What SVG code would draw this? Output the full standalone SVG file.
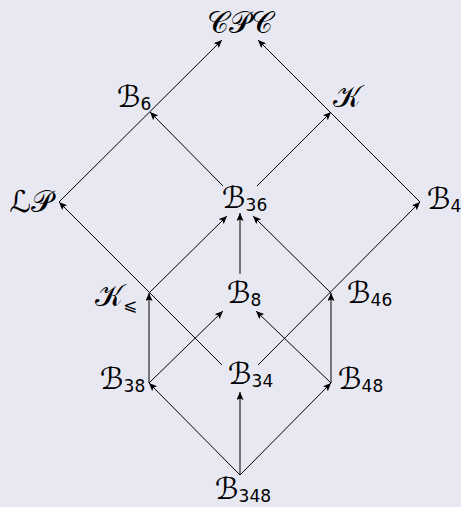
<svg xmlns="http://www.w3.org/2000/svg" width="461" height="507" viewBox="0 0 461 507">
<style>
.bg{fill:#e8e8f2}
.e{stroke:#000;stroke-width:1;fill:none;marker-end:url(#ah)}
.n{font-family:"DejaVu Sans","DejaVu Serif","Noto Sans",serif;font-size:30px;fill:#000}
.s{font-family:"DejaVu Sans","Noto Sans",sans-serif;font-size:17px}
</style>
<defs>
<marker id="ah" markerUnits="userSpaceOnUse" markerWidth="10" markerHeight="8" refX="8" refY="3.5" orient="auto">
<path d="M0,0 L8,3.5 L0,7 L1.5,3.5 z" fill="#000"/>
</marker>
</defs>
<rect class="bg" x="0" y="0" width="461" height="507"/>
<g id="connectors">
<path class="e" d="M59,202 L222,40"/>
<path class="e" d="M420,202 L258,40"/>
<path class="e" d="M223,186 L150,112"/>
<path class="e" d="M257,186 L331,112"/>
<path class="e" d="M222,365 L59,202"/>
<path class="e" d="M258,365 L420,202"/>
<path class="e" d="M149,293 L227,216"/>
<path class="e" d="M240,274 L240,213"/>
<path class="e" d="M331,293 L253,216"/>
<path class="e" d="M149,383 L149,293"/>
<path class="e" d="M331,383 L331,293"/>
<path class="e" d="M149,383 L223,311"/>
<path class="e" d="M331,383 L256,311"/>
<path class="e" d="M240,475 L149,383"/>
<path class="e" d="M240,475 L240,392"/>
<path class="e" d="M240,475 L331,383"/>
</g>
<g id="CPC"><text class="n" x="240" y="33" text-anchor="middle">𝒞𝒫𝒞</text></g>
<g id="B6"><text class="n" x="117" y="107">ℬ<tspan class="s" dy="3">6</tspan></text></g>
<g id="K"><text class="n" x="333" y="107">𝒦</text></g>
<g id="LP"><text class="n" x="53" y="212" text-anchor="end">ℒ𝒫</text></g>
<g id="B36"><text class="n" x="222" y="208">ℬ<tspan class="s" dy="3">36</tspan></text></g>
<g id="B4"><text class="n" x="427" y="209">ℬ<tspan class="s" dy="3">4</tspan></text></g>
<g id="Kle"><text class="n" x="95" y="306">𝒦<tspan class="s" dy="5">⩽</tspan></text></g>
<g id="B8"><text class="n" x="227" y="303">ℬ<tspan class="s" dy="3">8</tspan></text></g>
<g id="B46"><text class="n" x="347" y="303">ℬ<tspan class="s" dy="3">46</tspan></text></g>
<g id="B38"><text class="n" x="100" y="389">ℬ<tspan class="s" dy="3">38</tspan></text></g>
<g id="B34"><text class="n" x="228" y="384">ℬ<tspan class="s" dy="3">34</tspan></text></g>
<g id="B48"><text class="n" x="338" y="389">ℬ<tspan class="s" dy="3">48</tspan></text></g>
<g id="B348"><text class="n" x="215" y="499">ℬ<tspan class="s" dy="3">348</tspan></text></g>
</svg>
